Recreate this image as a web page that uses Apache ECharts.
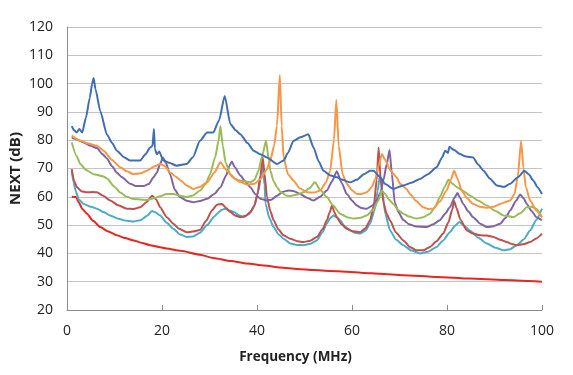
<!DOCTYPE html>
<html>
<head>
<meta charset="utf-8">
<script src="https://cdn.jsdelivr.net/npm/echarts@6/dist/echarts.min.js"></script>
<style>
  html, body { margin: 0; padding: 0; background: #fff; }
  #chart { width: 573px; height: 375px; }
</style>
</head>
<body>
<div id="chart"></div>
<script>
// NEXT (dB) vs Frequency (MHz), values as [MHz, dB]
const blueData = [[1,85],[1.5,83.5],[2,82.7],[2.6,84],[3.2,82.7],[4,88],[4.8,95],[5.3,100],[5.6,102],[6,98],[7,90.3],[8.4,82],[9.5,79],[10.5,76.3],[12,74],[13.3,72.8],[15.4,72.8],[16.5,75],[17.5,77.4],[18,78],[18.3,84],[18.5,77],[18.9,75],[19.4,76],[20.3,72.8],[21.5,72],[23.1,71],[25.2,71.6],[26.5,74],[28,79.8],[29.5,82.7],[30.8,82.7],[32,87],[33.2,95.6],[34.4,85.7],[35.5,83.5],[36.5,82.1],[38,79],[39.3,76.3],[40.7,75],[42.1,73.9],[44.2,71.6],[45.6,72.8],[46.5,75.5],[47.7,79.8],[49.1,81],[50.8,82.1],[51.9,77.4],[53,72.5],[54,69.2],[55.5,67.5],[56.8,66.9],[58,66],[59.6,65.1],[61,66],[62.5,68],[63.8,69.2],[64.5,69.2],[65.9,67],[67,64.5],[68.7,62.8],[70.8,64],[72.5,65],[74.3,66.3],[76,68],[77.8,70.4],[79,74],[79.6,76.3],[80.2,75.5],[80.5,77.7],[81.5,76.5],[82.7,75.1],[84,74.2],[85.5,73.9],[86.5,71.5],[87.7,69.2],[89,66.5],[90.5,64],[92,63.5],[93.3,64.6],[95,67],[96.3,69.2],[97.2,68],[98.2,65.7],[99,63.5],[100,61]];
const orangeData = [[1,81.6],[2.8,79.8],[4.5,78.8],[6.3,78],[7.7,76.3],[9.5,73],[11.2,70.4],[12.6,69],[14,68],[15.5,68.3],[16.8,69.2],[18.5,70.8],[19.6,71.6],[20.5,71],[21.8,68.5],[23,67],[24,65.7],[25.2,64],[26.6,62.8],[28,63.5],[29.5,65.1],[31,68.5],[32.3,72.2],[33.5,69.5],[35.1,66.6],[36.5,65.2],[38,64.3],[39.5,64.6],[40.7,66.3],[42,69.5],[42.8,72.8],[43.6,78],[44.2,85],[44.8,103],[45.2,85],[45.6,74],[46.5,68],[47.7,65.7],[49,63],[50.5,61.6],[52,61.5],[53.3,62.2],[54.5,65],[55.4,69.2],[56.2,80],[56.7,94.2],[57.2,78],[58,68],[58.9,64.6],[60,62.3],[61,61],[62,61],[63.1,61.6],[64.2,63.5],[64.9,66.3],[65.6,71],[66.3,75.1],[67,73],[68,69.5],[69.4,66.9],[70.1,64.6],[71.5,62.8],[72.2,61],[73.5,58.5],[75,56.3],[76,55.7],[77.1,55.8],[78.5,58.3],[79.9,62.2],[80.8,66],[81.5,69.2],[82.2,66.5],[83.1,62.2],[84.2,59.5],[85.5,57.5],[87,56.5],[88.4,56.1],[90,56.6],[91.2,57.5],[93.3,58.7],[94.2,61],[94.9,67],[95.6,79.8],[96.1,70],[96.6,63.5],[97.5,58.7],[98.8,55.2],[100,52.8]];
const greenData = [[1,79.2],[2,74.5],[2.8,71.6],[4,69.5],[5.6,68],[7.7,67.2],[8.4,66.5],[10,63.5],[11.2,61.5],[12.6,60],[14,59.2],[16.8,58.9],[18.5,59.6],[19.6,60.2],[21,61],[22.4,61],[23.5,60.5],[25.2,59.9],[26.5,60.5],[28,62.2],[29.2,64.5],[30.1,68],[31.2,74],[31.9,79.8],[32.3,85],[32.8,78],[33.4,72],[34.4,68],[35.5,66.2],[36.5,65.7],[38.6,65.1],[39.5,66],[40.3,69.2],[41.1,74.5],[41.9,79.8],[42.5,73],[42.8,69.2],[43.5,65.5],[44.2,63.4],[45,61.6],[46.3,60.4],[47,60.3],[48.5,60.8],[49.8,61.6],[51,63],[52.2,65.1],[53.3,62.5],[54.7,59.9],[56,57],[57.5,54],[59,52.8],[60.3,52.3],[61.8,52.6],[63.1,53.4],[64.5,55.5],[65.5,58.5],[66.3,62.2],[67,61],[67.8,59],[68.7,57.5],[69.8,55.2],[70.8,54],[72,53],[73.6,52.3],[75,52.8],[76.4,54],[77.5,56.5],[78.5,59.9],[79.5,63.5],[80.3,66],[81.2,64.5],[82.1,63.4],[83.5,62],[84.9,60.4],[86.5,58.7],[88.4,56.9],[90,55.2],[91.9,53.4],[94,52.8],[95.5,54.3],[96.8,56.3],[97.8,56.5],[98.8,55.8],[100,52.8]];
const purpleData = [[1,81],[2,80.3],[3.5,79.2],[5,78],[6.3,77.2],[7.5,75],[8.4,73.5],[9.5,70.8],[10.5,68.5],[11.5,67],[13.3,64.6],[14.5,63.8],[16.1,63.8],[17.2,64.5],[18.2,66.9],[18.9,68.5],[19.6,71.6],[20.2,73.9],[20.8,72],[21.7,68],[22.7,62.5],[23.8,59.9],[25.2,58.6],[26.6,58.1],[28,58.5],[29.5,59.3],[31,61],[32.3,63.4],[33.5,67.5],[34.2,71],[34.7,72.5],[35.3,70.5],[36.5,67.5],[37.5,65.5],[38.6,63.4],[39.6,61],[40.7,59.3],[42.1,58.7],[43,59],[44.2,60.4],[45.5,61.8],[46.6,62.2],[47.8,62],[49.1,61],[50.5,59.7],[51.9,58.7],[53.3,60],[54.7,62.2],[55.8,65.5],[56.8,69],[57.8,65],[58.9,61],[60,58.7],[61,56.9],[62,56],[63.1,55.8],[64.2,56.8],[65.2,58.7],[66,61.5],[66.6,65.7],[67.3,71.5],[67.9,76.5],[68.4,68],[69,58],[69.8,54.5],[70.8,51.8],[72,50.3],[73.5,49.5],[75.7,49.3],[77,50.2],[78.5,51.7],[79.6,54],[80.6,56.3],[81.5,59.5],[82.2,61.3],[82.8,59.5],[83.4,57.5],[84.5,54.8],[85.5,52.8],[87,50.5],[88.4,49.3],[89.8,49.6],[91.2,50.5],[92.3,52.5],[93.3,55.2],[94.5,58.5],[95.4,60.8],[96.1,59.5],[96.8,57.5],[97.8,55],[98.8,52.8],[100,51.7]];
const darkRedData = [[1,69.8],[1.5,65.5],[2.1,63.4],[3,62],[4.2,61.6],[5.5,61.7],[6.3,61.6],[7.5,60.5],[9.1,58.7],[10.8,57],[12.6,55.8],[14,55.7],[15.4,56.3],[16.8,58.2],[17.9,60.4],[18.8,59],[19.6,56.3],[21,52.8],[22.4,50.5],[23.5,48.8],[25.2,47.5],[26.5,47.7],[28,48.3],[29.3,51.5],[30.5,55.2],[31.6,57.2],[32.6,57.5],[33.5,56],[34.4,54.6],[35.5,53.3],[36.5,52.8],[37.6,53.3],[38.6,54.6],[39.5,57],[40.1,61],[40.7,67.5],[41.2,73.9],[41.6,68],[42.1,59.9],[42.8,55],[43.5,51.7],[44.5,48.5],[45.6,46.4],[47,45.2],[48.5,44.3],[49.8,44],[51.2,44.5],[52.6,45.8],[53.8,48.5],[54.7,51.7],[55.3,54.5],[55.8,56.9],[56.3,54.5],[56.8,52.8],[57.8,50.3],[58.9,48.7],[60.3,47.8],[61.7,47.5],[62.8,48.8],[63.8,51.7],[64.6,57],[65.2,66],[65.6,77.4],[66,67],[66.6,58],[67.3,54],[68,51.7],[69.2,47.5],[70.8,44.6],[72.2,42.3],[73.6,41.1],[75,41.1],[76.4,42.3],[77.8,44.3],[79.2,47],[80.3,51],[81.1,55.5],[81.5,58.5],[82,56],[82.8,52],[84.2,48.1],[85.5,47],[87,46.4],[88.4,46.3],[89.8,45.8],[91.2,44.8],[92.6,44],[93.7,43.3],[94.7,42.9],[96,43.2],[97.5,44],[98.8,45.3],[100,47]];
const cyanData = [[1,69.2],[1.4,65],[1.8,62.2],[2.5,59],[3.5,57.5],[5,56.5],[6.3,55.8],[7.7,54.6],[9.1,53.4],[10.8,52.2],[12.6,51.5],[14,51.3],[15.4,51.7],[16.8,53.2],[17.9,55],[18.6,54.5],[19.6,53.4],[21,50.8],[22.4,48.7],[23.8,46.7],[25.2,45.8],[26.5,46],[28,47.3],[29.5,50],[31,53],[31.6,54],[32.5,55.3],[33.3,55.8],[34.2,55.2],[35.1,54.6],[36.2,53.5],[37.2,52.8],[38.3,53.8],[39.3,56.3],[40.3,62],[40.9,68],[41.2,70.5],[41.6,64],[41.8,57.5],[42.6,52.5],[43.5,49.3],[44.5,46.8],[45.6,45.2],[47,43.5],[48.4,43],[49.8,42.9],[51.2,43.4],[52.6,44.6],[53.8,47.5],[54.7,50.5],[55.4,52.5],[56.1,53.4],[56.8,52.8],[57.5,51.7],[58.5,49.5],[59.6,48.1],[60.6,47.3],[61.7,47],[62.8,48],[63.8,50.5],[64.7,55],[65.4,62],[65.9,68],[66.4,62],[67,54],[68,48.1],[69.3,44.8],[70.8,42.9],[72.5,41],[74.3,40],[76,40.6],[77.8,42.3],[79.2,44.6],[80.6,47.5],[81.7,49.8],[82.6,51.1],[83.6,49.8],[84.8,48.1],[86.6,45.5],[88.4,43.5],[90.2,42],[91.9,41.1],[93.3,41.5],[94.7,42.9],[96.2,45],[97.5,48.1],[98.8,51.8],[100,55.8]];
const limitData = [[1,60],[1.9,59.9],[2.5,58],[3.2,55.8],[4.2,54],[5.5,51.5],[7,49.3],[8.7,47.7],[10.5,46.4],[12.2,45.4],[14,44.6],[15.8,43.7],[17.5,42.9],[19.3,42.3],[21,41.7],[23.9,40.9],[28,39.5],[30.8,38.4],[34.5,37.3],[37.9,36.4],[41.5,35.7],[44.9,35],[48.5,34.5],[51.9,34.1],[55.5,33.8],[58.9,33.5],[62.5,33.1],[65.9,32.8],[70.8,32.3],[77.8,31.7],[84.8,31.1],[91.9,30.6],[100,30]];

const xTicks = [0, 20, 40, 60, 80, 100];
const yTicks = [20, 30, 40, 50, 60, 70, 80, 90, 100, 110, 120];

const chart = echarts.init(document.getElementById('chart'));

function line(name, data, color){
    return {
        name: name,
        type: 'line',
        data: data,
        showSymbol: false,
        symbol: 'none',
        smooth: 0.2,
        smoothMonotone: 'x',
        lineStyle: { color: color, width: 2 },
        itemStyle: { color: color },
        animation: false
    };
}

let option = {
    animation: false,
    grid: { left: 67, right: 31, top: 27, bottom: 65, outerBoundsMode: 'none' },
    textStyle: { fontFamily: 'Open Sans' },
    xAxis: {
        type: 'value',
        min: xTicks[0],
        max: xTicks[xTicks.length - 1],
        interval: 20,
        name: 'Frequency (MHz)',
        nameLocation: 'middle',
        nameGap: 40,
        nameMoveOverlap: false,
        nameTextStyle: { fontSize: 13.5, fontWeight: 'bold', color: '#222', padding: [0, 18, 0, 0] },
        axisLine: { lineStyle: { color: '#8c8c8c', width: 1 } },
        axisTick: { show: true, inside: true, length: 5, lineStyle: { color: '#8c8c8c' } },
        axisLabel: { fontSize: 14, color: '#222', margin: 14 },
        splitLine: { show: false }
    },
    yAxis: {
        type: 'value',
        min: yTicks[0],
        max: yTicks[yTicks.length - 1],
        interval: 10,
        name: 'NEXT (dB)',
        nameLocation: 'middle',
        nameGap: 44,
        nameMoveOverlap: false,
        nameTextStyle: { fontSize: 15, fontWeight: 'bold', color: '#222' },
        axisLine: { show: true, lineStyle: { color: '#8c8c8c', width: 1 } },
        axisTick: { show: false },
        axisLabel: { fontSize: 14, color: '#222', margin: 14 },
        splitLine: { lineStyle: { color: '#c4c4c4', width: 1 } }
    },
    series: [
        line('limit', limitData, '#E8261F'),
        line('cyan', cyanData, '#4BACC6'),
        line('darkred', darkRedData, '#C0504D'),
        line('purple', purpleData, '#8064A2'),
        line('green', greenData, '#9BBB59'),
        line('orange', orangeData, '#F79646'),
        line('blue', blueData, '#3F6EB5')
    ]
};

chart.setOption(option);
</script>
</body>
</html>
